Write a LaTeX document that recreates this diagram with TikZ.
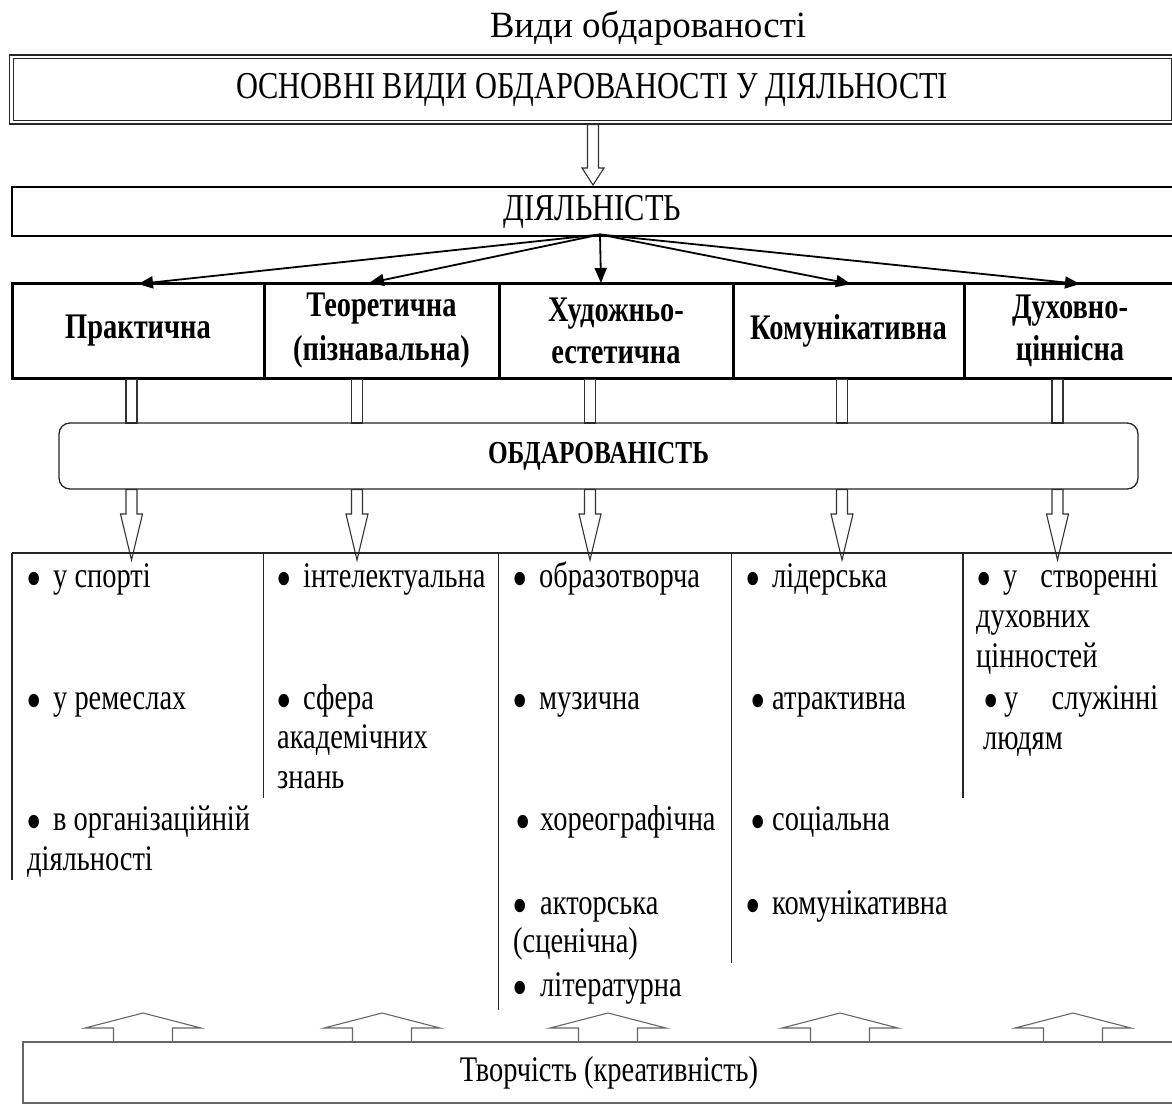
\documentclass[tikz,border=0pt]{standalone}
\usepackage{fontspec}
\setmainfont{Liberation Serif}
\newfontfamily\cf[FakeStretch=0.79]{Liberation Serif}
\newfontfamily\cg[FakeStretch=0.8]{Liberation Serif}
\usetikzlibrary{arrows.meta}
\newcommand\bl[1]{\makebox[#1pt][l]{\raisebox{-10pt}[0pt][0pt]{\scalebox{1.55}{•}}}}
\newcommand\hdarrow[4]{\draw[hol] ({#1-5.5},{#2}) -- ({#1-5.5},{#3}) -- ({#1-11},{#3}) -- ({#1},{#4}) -- ({#1+11},{#3}) -- ({#1+5.5},{#3}) -- ({#1+5.5},{#2}) -- cycle;}
\newcommand\huparrow[1]{\draw[hol,draw=black!60] ({#1-29.5},1042) -- ({#1-29.5},1028) -- ({#1-58},1028) -- ({#1},1013) -- ({#1+58},1028) -- ({#1+29.5},1028) -- ({#1+29.5},1042);}
\begin{document}
\begin{tikzpicture}[x=1pt,y=-1pt,
  txt/.style={inner sep=0pt, font=\cf\fontsize{36}{40}\selectfont},
  lst/.style={txt, anchor=base west, text height=24pt, text depth=7pt},
  bigbox/.style={draw=black!85, line width=1.3pt, inner sep=0pt, font=\cg\fontsize{38}{40}\selectfont},
  rowbox/.style={draw=black, line width=3pt, minimum height=95pt, inner sep=0pt, align=center, font=\cf\bfseries\fontsize{36}{42}\selectfont},
  hol/.style={draw=black!80, line width=1.1pt, fill=white},
  cline/.style={draw=black!85, line width=1.2pt},
  conn/.style={line width=1.8pt, -{Triangle[length=15pt,width=12pt]}},
]
\useasboundingbox (0,0) rectangle (1172,1104);
\fill[white] (0,0) rectangle (1172,1104);

% title
\node[inner sep=0pt, anchor=base, font=\fontsize{37}{40}\selectfont] (title) at (648,37) {Види обдарованості};

% top double box
\node[bigbox, double, double distance=2.2pt, minimum width=1161.5pt, minimum height=65.6pt] (top) at (592.25,89.5) {ОСНОВНІ ВИДИ ОБДАРОВАНОСТІ У ДІЯЛЬНОСТІ};

% hollow arrow top -> activity
\hdarrow{593}{124.5}{168}{185}

% activity box
\node[bigbox, draw=black, minimum width=1161pt, minimum height=49pt] (dial) at (592.5,211.5) {ДІЯЛЬНІСТЬ};

% row of five boxes
\node[rowbox, minimum width=252pt] (r1) at (138,330.5) {Практична};
\node[rowbox, minimum width=235pt] (r2) at (381.5,330.5) {Теоретична\\[2pt](пізнавальна)};
\node[rowbox, minimum width=234pt] (r3) at (616,330.5) {Художньо-\\естетична};
\node[rowbox, minimum width=231pt] (r4) at (848.5,330.5) {Комунікативна};
\node[rowbox, minimum width=212pt] (r5) at (1070,330.5) {Духовно-\\ціннісна};

% connectors
\coordinate (src) at (600,234.5);
\coordinate (t1) at (138,284);
\coordinate (t2) at (369,283);
\coordinate (t3) at (601,283);
\coordinate (t4) at (851,284);
\coordinate (t5) at (1080,284);
\foreach \t in {t1,t2,t3,t4,t5} {\draw[conn] (src) -- (\t);}

% shafts row -> giftedness
\foreach \x in {131.5,357,590,842,1057.5}
  {\draw[hol] ({\x-5.5},379.5) rectangle ({\x+5.5},423);}

% giftedness box
\node[bigbox, rounded corners=11pt, minimum width=1079pt, minimum height=66pt, font=\cf\bfseries\fontsize{32}{36}\selectfont] (gift) at (598.5,456) {ОБДАРОВАНІСТЬ};

% arrows giftedness -> lists
\foreach \x in {131.5,357,590,842,1057.5}
  {\hdarrow{\x}{489.5}{514}{560}}

% list grid
\draw[cline] (12,553) -- (1174,553);
\draw[cline] (12,553) -- (12,880);
\draw[cline] (263.5,553) -- (263.5,798);
\draw[cline] (498.5,553) -- (498.5,1010);
\draw[cline] (731.5,553) -- (731.5,963);
\draw[cline] (963,553) -- (963,798);

% column 1
\node[lst] (a1) at (26,587) {\bl{27}у спорті};
\node[lst] (a2) at (26,709) {\bl{27}у ремеслах};
\node[lst] (a3) at (26,830) {\bl{27}в організаційній};
\node[lst] (a3b) at (27,870) {діяльності};
% column 2
\node[lst] (b1) at (276,587) {\bl{27}інтелектуальна};
\node[lst] (b2) at (276,709) {\bl{27}сфера};
\node[lst] (b2b) at (277,748) {академічних};
\node[lst] (b2c) at (277,788) {знань};
% column 3
\node[lst] (c1) at (512,587) {\bl{27}образотворча};
\node[lst] (c2) at (512,709) {\bl{27}музична};
\node[lst] (c3) at (515,830) {\bl{25}хореографічна};
\node[lst] (c4) at (512,914) {\bl{28}акторська};
\node[lst] (c4b) at (513,952) {(сценічна)};
\node[lst] (c5) at (512,996) {\bl{28}літературна};
% column 4
\node[lst] (d1) at (745,587) {\bl{27}лідерська};
\node[lst] (d2) at (750,709) {\bl{22}атрактивна};
\node[lst] (d3) at (750,830) {\bl{22}соціальна};
\node[lst] (d4) at (745,914) {\bl{27}комунікативна};
% column 5
\node[lst] (e1) at (976,587) {\makebox[182pt]{\bl{27}у\hfill створенні}};
\node[lst] (e1b) at (976,627) {духовних};
\node[lst] (e1c) at (976,667) {цінностей};
\node[lst] (e2) at (983,709) {\makebox[175pt]{\bl{21}у\hfill служінні}};
\node[lst] (e2b) at (983,749) {людям};

% bottom up arrows
\foreach \x in {143,382,608,840,1073} {\huparrow{\x}}

% bottom box
\node[bigbox, draw=black!60, minimum width=1172pt, minimum height=61pt, font=\cf\fontsize{36}{40}\selectfont] (creat) at (609,1072.5) {Творчість (креативність)};
\end{tikzpicture}
\end{document}
